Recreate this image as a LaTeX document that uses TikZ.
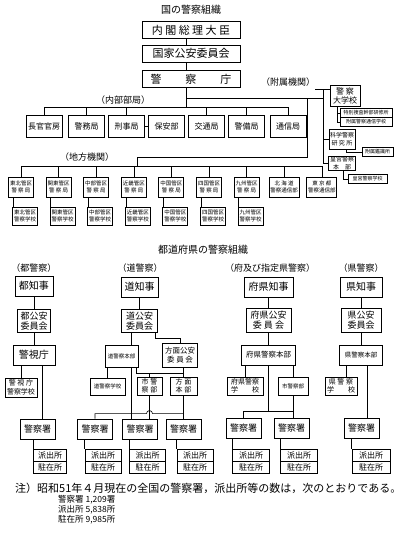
\documentclass[tikz,border=0pt]{standalone}
\usepackage{fontspec}
\setmainfont{Noto Sans CJK JP}
\usetikzlibrary{calc}
\tikzset{
    % box styles
    box/.style={draw, line width=0.9pt, inner sep=0pt, align=center},
    bigbox/.style={box, minimum width=98pt, minimum height=17pt, font=\fontsize{11}{12}\selectfont},
    bureau/.style={box, minimum width=36pt, minimum height=22pt, font=\fontsize{8}{9}\selectfont},
    region/.style={box, minimum width=25pt, minimum height=20pt, font=\fontsize{5.5}{7}\selectfont},
    smallbox/.style={box, line width=0.6pt, minimum height=9pt, font=\fontsize{5}{6}\selectfont},
    sbox/.style={box, font=\fontsize{6}{7.5}\selectfont},
    gov/.style={box, minimum height=20pt, font=\fontsize{10}{11}\selectfont},
    comm/.style={box, minimum height=23pt, font=\fontsize{9}{10}\selectfont},
    station/.style={box, minimum width=35pt, minimum height=20pt, font=\fontsize{9}{10}\selectfont},
    koban/.style={box, minimum height=12pt, font=\fontsize{8}{9}\selectfont},
    % text styles
    head/.style={inner sep=0pt, font=\fontsize{10}{11}\selectfont},
    label/.style={inner sep=0pt, font=\fontsize{9}{10}\selectfont},
    note/.style={inner sep=0pt, anchor=west, font=\fontsize{11}{12}\selectfont},
    notenum/.style={inner sep=0pt, anchor=west, font=\fontsize{8.5}{9}\selectfont},
    % line style
    link/.style={line width=0.6pt}
}
\begin{document}
\begin{tikzpicture}[x=1pt, y=-1pt]
    \useasboundingbox (0,0) rectangle (402,539);

    % National police
    \node[head] (title1) at (191,10) {国の警察組織};
    \node[bigbox] (pm) at (191,30) {内 閣 総 理 大 臣};
    \node[bigbox] (npsc) at (191,53.5) {国家公安委員会};
    \node[bigbox] (npa) at (191,79) {警\hspace{24pt}察\hspace{24pt}庁};
    \coordinate (tr) at (186,0);
    \draw[link] (pm.south -| tr) -- (npsc.north -| tr);
    \draw[link] (npsc.south -| tr) -- (npa.north -| tr);

    % Internal bureaus
    \node[label] (lin) at (123,100) {（内部部局）};
    \foreach \n/\x/\t in {1/44/長官官房, 2/86.5/警務局, 3/126.5/刑事局, 4/166.5/保安部, 5/206.5/交通局, 6/246.5/警備局, 7/288/通信局}
        \node[bureau] (ib\n) at (\x,126) {\t};
    \coordinate (jb) at (186,108);
    \draw[link] (npa.south -| tr) -- (jb);
    \draw[link] (ib1.north) -- ++(0,-7) -| (ib7.north);
    \foreach \n in {2,3,5,6}
        \draw[link] (ib\n.north) -- ++(0,-7);
    \draw[link] (ib3) -- (ib4);

    % Attached organs
    \node[label] (lat) at (288,82) {（附属機関）};
    \node[box, minimum width=30pt, minimum height=21pt, font=\fontsize{8}{9}\selectfont] (ncpa) at (345,96) {警 察\\大学校};
    \node[smallbox, minimum width=52pt] (sa1) at (366,113) {特別捜査幹部研修所};
    \node[smallbox, minimum width=52pt] (sa2) at (366,122) {附属警察通信学校};
    \node[sbox, minimum width=26pt, minimum height=20pt] (nrips) at (342,139) {科学警察\\研 究 所};
    \node[smallbox, minimum width=31pt] (sa3) at (377.5,152) {附属鑑識所};
    \node[sbox, minimum width=27pt, minimum height=14pt] (ipg) at (342,163) {皇宮警察\\本　部};
    \node[smallbox, minimum width=39pt] (sa4) at (367.5,179) {皇宮警察学校};
    \coordinate (ta) at (323,89);
    \coordinate (ua) at (337,0);
    \coordinate (ub) at (346,0);
    \coordinate (uc) at (343,0);
    \draw[link] (lat.east |- ta) -- (ncpa.west |- ta);
    \draw[link] (ta) |- (ipg.west);
    \draw[link] (nrips.west) -- (nrips.west -| ta);
    \draw[link] (ncpa.south -| ua) |- (sa2.west);
    \draw[link] (sa1.west -| ua) -- (sa1.west);
    \draw[link] (nrips.south -| ub) |- (sa3.west);
    \draw[link] (ipg.south -| uc) |- (sa4.west);

    % Regional organs
    \node[label] (lrg) at (87,157) {（地方機関）};
    \foreach \i/\nm in {1/東北, 2/関東, 3/中部, 4/近畿, 5/中国, 6/四国, 7/九州} {
        \node[region] (rg\i) at ({21+37.6*(\i-1)},187) {\nm 管区\\警 察 局};
        \node[region, minimum height=18pt] (rs\i) at ({25+37.6*(\i-1)},216) {\nm 管区\\警察学校};
        \draw[link] ($(rg\i.south west)+(5,0)$) -- ++(0,10);
    }
    \node[region, minimum width=30pt] (rg8) at (284.2,187) {北 海 道\\警察通信部};
    \node[region, minimum width=30pt] (rg9) at (321.8,187) {東 京 都\\警察通信部};
    \draw[link] (rg1.north) -- ++(0,-10) -| (rg9.north);
    \foreach \i in {2,...,8}
        \draw[link] (rg\i.north) -- ++(0,-10);
    \coordinate (j1) at (186,98);
    \coordinate (j2) at (307,98);
    \coordinate (j3) at (307,157);
    \coordinate (j4) at (137,157);
    \coordinate (rb) at (137,167);
    \draw[link] (j1) -- (j2) -- (j3) -- (j4) -- (rb);
    \draw[link] (j2) -- (j2 -| ta);

    % Prefectural police
    \node[head] (title2) at (203,250) {都道府県の警察組織};
    \node[label] (l1) at (34,268) {（都警察）};
    \node[label] (l2) at (140,268) {（道警察）};
    \node[label] (l3) at (270,268) {（府及び指定県警察）};
    \node[label] (l4) at (361,268) {（県警察）};

    % Police stations and boxes
    \foreach \n/\px/\py/\kx/\kw in {1/37.5/429/50/33, 2a/95/429/103/36, 2b/140/429/147.5/36, 2c/183.5/429/195/36, 3a/243.5/428/251/37, 3b/291.5/428/299/37, 4/361.5/428/371/38} {
        \node[station] (ps\n) at (\px,\py) {警察署};
        \node[koban, minimum width=\kw pt] (kb\n) at (\kx,455) {派出所};
        \node[koban, minimum width=\kw pt] (zs\n) at (\kx,467) {駐在所};
        \draw[link] (kb\n.north west |- ps\n.south) -- (kb\n.north west);
    }

    % Tokyo
    \node[gov, minimum width=38pt] (g1) at (34,286) {都知事};
    \node[comm, minimum width=33pt] (c1) at (34,321) {都公安\\委員会};
    \node[gov, minimum width=42pt] (h1) at (34,355) {警視庁};
    \node[box, minimum width=32pt, minimum height=19pt, font=\fontsize{7}{8.5}\selectfont] (sc1) at (21,387.5) {警 視 庁\\警察学校};
    \coordinate (x1) at (42,0);
    \draw[link] (g1) -- (c1);
    \draw[link] (c1) -- (h1);
    \draw[link] (sc1.north |- h1.south) -- (sc1.north);
    \draw[link] (h1.south -| x1) -- (ps1.north -| x1);

    % Hokkaido
    \node[gov, minimum width=37pt] (g2) at (139.5,287) {道知事};
    \node[comm, minimum width=36pt] (c2) at (139.5,321) {道公安\\委員会};
    \node[sbox, minimum width=33pt, minimum height=22pt, font=\fontsize{5.5}{7}\selectfont] (hq2) at (121.5,356) {道警察本部};
    \node[comm, minimum width=35pt, minimum height=24pt, font=\fontsize{7.5}{9}\selectfont] (pc2) at (180,355) {方面公安\\委 員 会};
    \node[sbox, minimum width=35pt, minimum height=17pt, font=\fontsize{5.5}{7}\selectfont] (sc2) at (107.5,386.5) {道警察学校};
    \node[sbox, minimum width=25pt, minimum height=18pt, font=\fontsize{7}{8.5}\selectfont] (cp2) at (149.5,386) {市 警\\察 部};
    \node[sbox, minimum width=27pt, minimum height=18pt, font=\fontsize{7}{8.5}\selectfont] (ar2) at (183.5,386) {方 面\\本 部};
    \coordinate (x2) at (131,0);
    \coordinate (x2b) at (155,0);
    \coordinate (x2c) at (136,0);
    \draw[link] (g2) -- (c2);
    \draw[link] (c2.south -| x2) -- (hq2.north -| x2);
    \draw[link] (c2.south -| x2b) -- ++(0,5) -| (pc2.north);
    \draw[link] (sc2.north |- hq2.south) -- (sc2.north);
    \draw[link] (pc2.south -| ar2.north) -- (ar2.north);
    \draw[link] (hq2.south -| x2c) -- ++(0,6) -| (ar2.north);
    \draw[link] (cp2.north) -- ++(0,-4);
    \draw[link] (hq2.south -| x2) -- (ps2b.north -| x2);
    \draw[link] (cp2.south) -- (cp2.south |- ps2b.north);
    \draw[link] (ar2.south) -- (ps2c.north);
    \draw[link] (ps2a.north) -- ++(0,-5) -- ($(cp2.south |- ps2a.north)+(-3,-5)$)
        arc[start angle=180, end angle=360, radius=3] -| (ps2c.north);

    % Fu and designated prefectures
    \node[gov, minimum width=49pt] (g3) at (268.5,287) {府県知事};
    \node[comm, minimum width=45pt, minimum height=24pt] (c3) at (268.5,320) {府県公安\\委 員 会};
    \node[gov, minimum width=54pt, font=\fontsize{7.5}{9}\selectfont] (hq3) at (268.5,355) {府県警察本部};
    \node[box, minimum width=36pt, minimum height=18pt, font=\fontsize{7}{8.5}\selectfont] (sc3) at (245,386) {府県警察\\学　　校};
    \node[sbox, minimum width=30pt, minimum height=18pt, font=\fontsize{5.5}{7}\selectfont] (cp3) at (293,386) {市警察部};
    \draw[link] (g3) -- (c3);
    \draw[link] (c3) -- (hq3);
    \draw[link] (sc3.north |- hq3.south) -- (sc3.north);
    \draw[link] (cp3.north |- hq3.south) -- (cp3.north);
    \draw[link] (hq3.south) -- ++(0,47);
    \draw[link] (ps3a.north) -- ++(0,-6) -| (cp3.south);
    \draw[link] (cp3.south) -- (cp3.south |- ps3b.north);

    % Prefectures
    \node[gov, minimum width=42pt] (g4) at (361,287) {県知事};
    \node[comm, minimum width=40pt, minimum height=24pt] (c4) at (361,320) {県公安\\委員会};
    \node[gov, minimum width=43pt, font=\fontsize{6.5}{8}\selectfont] (hq4) at (361,355) {県警察本部};
    \node[box, minimum width=32pt, minimum height=18pt, font=\fontsize{7}{8.5}\selectfont] (sc4) at (341,386) {県 警 察\\学　　校};
    \coordinate (x4) at (367,0);
    \coordinate (x4a) at (346,0);
    \draw[link] (g4) -- (c4);
    \draw[link] (c4) -- (hq4);
    \draw[link] (hq4.south -| x4a) -- (sc4.north -| x4a);
    \draw[link] (hq4.south -| x4) -- (ps4.north -| x4);

    % Note
    \node[note] (n0) at (15,488) {注）昭和51年４月現在の全国の警察署，派出所等の数は，次のとおりである。};
    \node[notenum] (n1) at (58,500) {警察署 1,209署};
    \node[notenum] (n2) at (58,510) {派出所 5,838所};
    \node[notenum] (n3) at (58,520) {駐在所 9,985所};
\end{tikzpicture}
\end{document}
